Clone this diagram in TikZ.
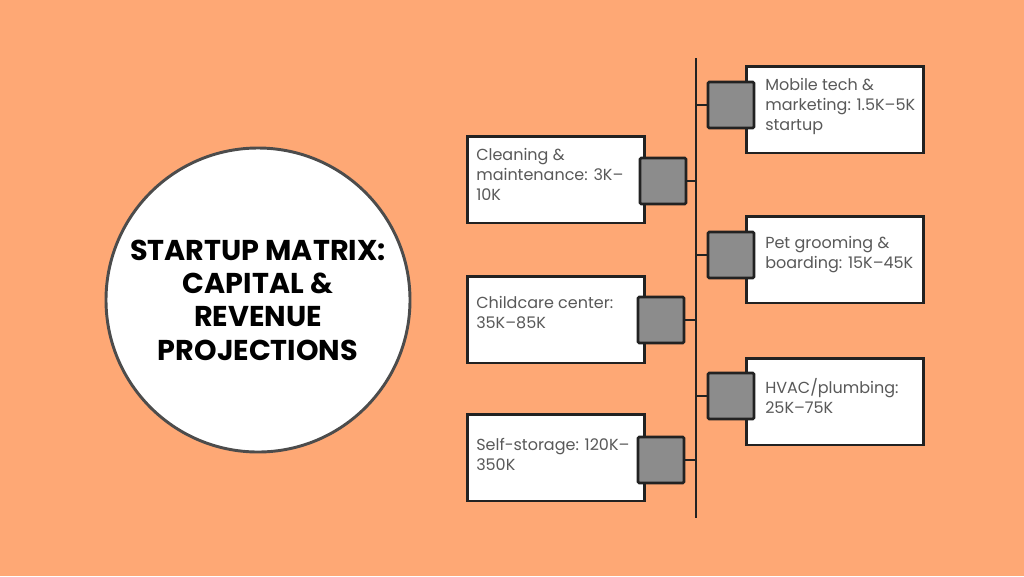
\documentclass[tikz,border=0pt]{standalone}
\usepackage{fontspec}
\setmainfont{Poppins}
\usetikzlibrary{positioning}
\definecolor{bgorange}{HTML}{FEA875}
\definecolor{tabgray}{HTML}{8C8C8C}
\definecolor{ink}{HTML}{222222}
\tikzset{
  card/.style={draw=ink, line width=2pt, fill=white, minimum width=133pt, minimum height=65pt, anchor=north west, inner sep=0},
  tab/.style={draw=ink, line width=2pt, fill=tabgray, minimum size=34.5pt, inner sep=0, rounded corners=1},
  lbl/.style={text=black!65, font=\fontsize{12}{15}\selectfont, align=left, anchor=north west, inner sep=0},
}
\begin{document}
\begin{tikzpicture}[x=0.75pt, y=-0.75pt]
\useasboundingbox[fill=bgorange] (0,0) rectangle (1024,576);
% title circle
\node[circle, draw=black!70, line width=2.2pt, fill=white, minimum size=228pt, align=center,
      font=\bfseries\fontsize{21.5}{25}\selectfont] (title) at (258,300)
      {STARTUP MATRIX:\\CAPITAL \&\\REVENUE\\PROJECTIONS};
% spine
\coordinate (top) at (696,58);
\coordinate (bot) at (696,518);
\draw[ink, line width=2pt] (top) -- (bot);
% right side
\node[card] (r1) at (745,65) {};
\node[card] (r2) at (745,215) {};
\node[card] (r3) at (745,357) {};
\node[lbl] at (765,78) {Mobile tech \&\\marketing: 1.5K–5K\\startup};
\node[lbl] at (765,236) {Pet grooming \&\\boarding: 15K–45K};
\node[lbl] at (765,378) {HVAC/plumbing:\\25K–75K};
\node[tab] (tr1) at (731,105) {};
\node[tab] (tr2) at (731,255) {};
\node[tab] (tr3) at (731,396) {};
\foreach \n/\y in {tr1/105, tr2/255, tr3/396}
  \draw[ink, line width=2pt] (\n.west) -- (696,\y);
% left side
\node[card] (l1) at (466,135) {};
\node[card] (l2) at (466,275) {};
\node[card] (l3) at (466,413) {};
\node[lbl] at (476,148) {Cleaning \&\\maintenance: 3K–\\10K};
\node[lbl] at (476,296) {Childcare center:\\35K–85K};
\node[lbl] at (476,438) {Self-storage: 120K–\\350K};
\node[tab] (tl1) at (663,181) {};
\node[tab] (tl2) at (661,320) {};
\node[tab] (tl3) at (661,460) {};
\foreach \n/\y in {tl1/181, tl2/320, tl3/460}
  \draw[ink, line width=2pt] (\n.east) -- (696,\y);
\end{tikzpicture}
\end{document}
